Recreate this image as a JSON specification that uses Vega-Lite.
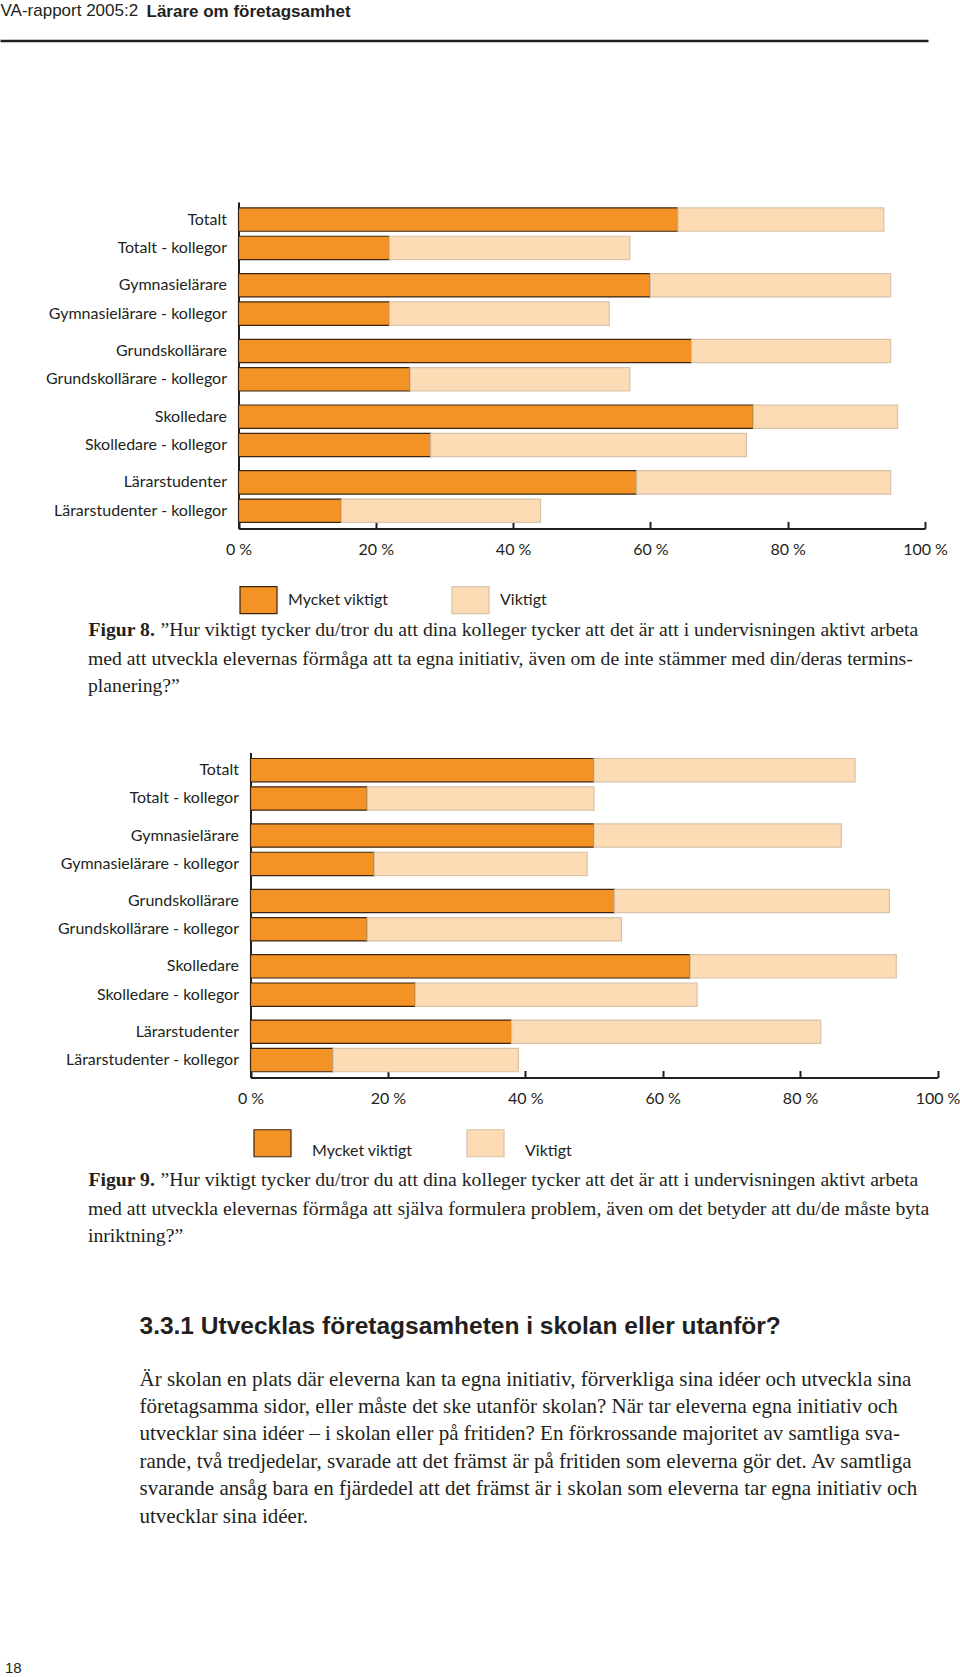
{
  "$schema": "https://vega.github.io/schema/vega-lite/v6.json",
  "padding": 0,
  "background": "white",
  "spacing": 0,
  "bounds": "flush",
  "resolve": {"scale": {"fill": "independent", "stroke": "independent"}, "legend": {"fill": "independent", "stroke": "independent"}},
  "config": {"view": {"stroke": null}, "axis": {"grid": false}, "font": "Lato"},
  "datasets": {
    "fig8": [
      {"grupp": "Totalt", "typ": "egen", "etikett": "Totalt", "svar": "Mycket viktigt", "andel": 64},
      {"grupp": "Totalt", "typ": "egen", "etikett": "Totalt", "svar": "Viktigt", "andel": 30},
      {"grupp": "Totalt", "typ": "kollegor", "etikett": "Totalt - kollegor", "svar": "Mycket viktigt", "andel": 22},
      {"grupp": "Totalt", "typ": "kollegor", "etikett": "Totalt - kollegor", "svar": "Viktigt", "andel": 35},
      {"grupp": "Gymnasielärare", "typ": "egen", "etikett": "Gymnasielärare", "svar": "Mycket viktigt", "andel": 60},
      {"grupp": "Gymnasielärare", "typ": "egen", "etikett": "Gymnasielärare", "svar": "Viktigt", "andel": 35},
      {"grupp": "Gymnasielärare", "typ": "kollegor", "etikett": "Gymnasielärare - kollegor", "svar": "Mycket viktigt", "andel": 22},
      {"grupp": "Gymnasielärare", "typ": "kollegor", "etikett": "Gymnasielärare - kollegor", "svar": "Viktigt", "andel": 32},
      {"grupp": "Grundskollärare", "typ": "egen", "etikett": "Grundskollärare", "svar": "Mycket viktigt", "andel": 66},
      {"grupp": "Grundskollärare", "typ": "egen", "etikett": "Grundskollärare", "svar": "Viktigt", "andel": 29},
      {"grupp": "Grundskollärare", "typ": "kollegor", "etikett": "Grundskollärare - kollegor", "svar": "Mycket viktigt", "andel": 25},
      {"grupp": "Grundskollärare", "typ": "kollegor", "etikett": "Grundskollärare - kollegor", "svar": "Viktigt", "andel": 32},
      {"grupp": "Skolledare", "typ": "egen", "etikett": "Skolledare", "svar": "Mycket viktigt", "andel": 75},
      {"grupp": "Skolledare", "typ": "egen", "etikett": "Skolledare", "svar": "Viktigt", "andel": 21},
      {"grupp": "Skolledare", "typ": "kollegor", "etikett": "Skolledare - kollegor", "svar": "Mycket viktigt", "andel": 28},
      {"grupp": "Skolledare", "typ": "kollegor", "etikett": "Skolledare - kollegor", "svar": "Viktigt", "andel": 46},
      {"grupp": "Lärarstudenter", "typ": "egen", "etikett": "Lärarstudenter", "svar": "Mycket viktigt", "andel": 58},
      {"grupp": "Lärarstudenter", "typ": "egen", "etikett": "Lärarstudenter", "svar": "Viktigt", "andel": 37},
      {"grupp": "Lärarstudenter", "typ": "kollegor", "etikett": "Lärarstudenter - kollegor", "svar": "Mycket viktigt", "andel": 15},
      {"grupp": "Lärarstudenter", "typ": "kollegor", "etikett": "Lärarstudenter - kollegor", "svar": "Viktigt", "andel": 29}
    ],
    "fig9": [
      {"grupp": "Totalt", "typ": "egen", "etikett": "Totalt", "svar": "Mycket viktigt", "andel": 50},
      {"grupp": "Totalt", "typ": "egen", "etikett": "Totalt", "svar": "Viktigt", "andel": 38},
      {"grupp": "Totalt", "typ": "kollegor", "etikett": "Totalt - kollegor", "svar": "Mycket viktigt", "andel": 17},
      {"grupp": "Totalt", "typ": "kollegor", "etikett": "Totalt - kollegor", "svar": "Viktigt", "andel": 33},
      {"grupp": "Gymnasielärare", "typ": "egen", "etikett": "Gymnasielärare", "svar": "Mycket viktigt", "andel": 50},
      {"grupp": "Gymnasielärare", "typ": "egen", "etikett": "Gymnasielärare", "svar": "Viktigt", "andel": 36},
      {"grupp": "Gymnasielärare", "typ": "kollegor", "etikett": "Gymnasielärare - kollegor", "svar": "Mycket viktigt", "andel": 18},
      {"grupp": "Gymnasielärare", "typ": "kollegor", "etikett": "Gymnasielärare - kollegor", "svar": "Viktigt", "andel": 31},
      {"grupp": "Grundskollärare", "typ": "egen", "etikett": "Grundskollärare", "svar": "Mycket viktigt", "andel": 53},
      {"grupp": "Grundskollärare", "typ": "egen", "etikett": "Grundskollärare", "svar": "Viktigt", "andel": 40},
      {"grupp": "Grundskollärare", "typ": "kollegor", "etikett": "Grundskollärare - kollegor", "svar": "Mycket viktigt", "andel": 17},
      {"grupp": "Grundskollärare", "typ": "kollegor", "etikett": "Grundskollärare - kollegor", "svar": "Viktigt", "andel": 37},
      {"grupp": "Skolledare", "typ": "egen", "etikett": "Skolledare", "svar": "Mycket viktigt", "andel": 64},
      {"grupp": "Skolledare", "typ": "egen", "etikett": "Skolledare", "svar": "Viktigt", "andel": 30},
      {"grupp": "Skolledare", "typ": "kollegor", "etikett": "Skolledare - kollegor", "svar": "Mycket viktigt", "andel": 24},
      {"grupp": "Skolledare", "typ": "kollegor", "etikett": "Skolledare - kollegor", "svar": "Viktigt", "andel": 41},
      {"grupp": "Lärarstudenter", "typ": "egen", "etikett": "Lärarstudenter", "svar": "Mycket viktigt", "andel": 38},
      {"grupp": "Lärarstudenter", "typ": "egen", "etikett": "Lärarstudenter", "svar": "Viktigt", "andel": 45},
      {"grupp": "Lärarstudenter", "typ": "kollegor", "etikett": "Lärarstudenter - kollegor", "svar": "Mycket viktigt", "andel": 12},
      {"grupp": "Lärarstudenter", "typ": "kollegor", "etikett": "Lärarstudenter - kollegor", "svar": "Viktigt", "andel": 27}
    ]
  },
  "vconcat": [
    {
      "width": 960,
      "height": 40.6,
      "data": {"values": []},
      "mark": "point",
      "encoding": {
        "x": {
          "field": "a", "type": "quantitative",
          "scale": {"domain": [0, 1], "range": [0, 928], "nice": false},
          "axis": {
            "domainColor": "#231f20", "domainWidth": 2.5, "ticks": false, "labels": false, "grid": false,
            "title": "VA-rapport 2005:2", "titleX": 0, "titleY": -24.6, "titleAlign": "left", "titleBaseline": "alphabetic",
            "titleFont": "Liberation Sans", "titleFontSize": 17, "titleFontWeight": "normal", "titleColor": "#231f20", "titleLimit": 2000
          }
        },
        "y": {
          "field": "b", "type": "quantitative",
          "scale": {"domain": [0, 1], "nice": false},
          "axis": {
            "domain": false, "ticks": false, "labels": false, "grid": false,
            "title": "Lärare om företagsamhet", "titleAngle": 0, "titleX": 146, "titleY": 16, "titleAlign": "left", "titleBaseline": "alphabetic",
            "titleFont": "Liberation Sans", "titleFontSize": 17, "titleFontWeight": "bold", "titleColor": "#231f20", "titleLimit": 2000
          }
        }
      }
    },
    {
      "width": 960,
      "height": 487.4,
      "data": {"name": "fig8"},
      "title": {
        "text": [
          "med att utveckla elevernas förmåga att ta egna initiativ, även om de inte stämmer med din/deras termins-",
          "planering?”"
        ],
        "orient": "bottom", "anchor": "start", "frame": "group", "dx": 88, "offset": 9.5, "align": "left",
        "font": "Liberation Serif", "fontSize": 19.7, "fontWeight": "normal", "lineHeight": 27, "color": "#231f20", "limit": 2000
      },
      "layer": [
        {
          "mark": {"type": "bar", "strokeWidth": 1.2},
          "encoding": {
            "y": {
              "field": "grupp", "type": "nominal",
              "sort": ["Totalt", "Gymnasielärare", "Grundskollärare", "Skolledare", "Lärarstudenter"],
              "scale": {"range": [160.9, 487.4], "paddingInner": 0.2134, "paddingOuter": 0.0915},
              "axis": {
                "labels": false, "ticks": false, "grid": false, "domainColor": "#231f20", "domainWidth": 2, "offset": -238.5,
                "title": "Figur 8.", "titleAngle": 0, "titleX": -150.5, "titleY": 594.4, "titleAlign": "left", "titleBaseline": "alphabetic",
                "titleFont": "Liberation Serif", "titleFontSize": 19.7, "titleFontWeight": "bold", "titleColor": "#231f20"
              }
            },
            "yOffset": {"field": "typ", "type": "nominal", "sort": ["egen", "kollegor"], "scale": {"paddingInner": 0.1767, "paddingOuter": 0}},
            "x": {
              "field": "andel", "type": "quantitative", "stack": "zero",
              "scale": {"domain": [0, 100], "range": [238.5, 925], "nice": false, "zero": false},
              "axis": {
                "values": [0, 20, 40, 60, 80, 100], "labelExpr": "datum.value + ' %'", "labelFlush": false, "labelOverlap": false,
                "domainColor": "#231f20", "domainWidth": 2, "tickColor": "#231f20", "tickWidth": 2, "tickSize": -7,
                "labelPadding": 28, "labelBaseline": "middle", "labelFont": "Lato", "labelFontSize": 16, "labelColor": "#231f20",
                "title": "”Hur viktigt tycker du/tror du att dina kolleger tycker att det är att i undervisningen aktivt arbeta",
                "titleX": 160, "titleY": 107, "titleAlign": "left", "titleBaseline": "alphabetic",
                "titleFont": "Liberation Serif", "titleFontSize": 19.7, "titleFontWeight": "normal",
                "titleColor": "#231f20", "titleLimit": 2000
              }
            },
            "order": {"field": "svar", "sort": "ascending"},
            "fill": {
              "field": "svar", "type": "nominal",
              "scale": {"domain": ["Mycket viktigt", "Viktigt"], "range": ["#F39325", "#FDDBB4"]},
              "legend": {
                "orient": "none", "legendX": 239, "legendY": 539.4, "direction": "horizontal", "title": null,
                "symbolType": "M-1,-0.73H1V0.73H-1Z", "symbolSize": 1369, "symbolStrokeWidth": 1.2,
                "labelFont": "Lato", "labelFontSize": 16, "labelColor": "#231f20", "labelOffset": 10, "columnPadding": 60
              }
            },
            "stroke": {
              "field": "svar", "type": "nominal",
              "scale": {"domain": ["Mycket viktigt", "Viktigt"], "range": ["#3d2410", "#d6c2a8"]}
            }
          }
        },
        {
          "transform": [{"filter": "datum.svar == 'Mycket viktigt'"}],
          "mark": {"type": "text", "align": "right", "baseline": "middle", "dx": -11.5, "font": "Lato", "fontSize": 16, "color": "#231f20"},
          "encoding": {
            "y": {"field": "grupp", "type": "nominal", "sort": ["Totalt", "Gymnasielärare", "Grundskollärare", "Skolledare", "Lärarstudenter"]},
            "yOffset": {"field": "typ", "type": "nominal", "sort": ["egen", "kollegor"]},
            "x": {"datum": 0, "type": "quantitative"},
            "text": {"field": "etikett"}
          }
        }
      ]
    },
    {
      "width": 960,
      "height": 548.5,
      "data": {"name": "fig9"},
      "title": {
        "text": [
          "med att utveckla elevernas förmåga att själva formulera problem, även om det betyder att du/de måste byta",
          "inriktning?”"
        ],
        "orient": "bottom", "anchor": "start", "frame": "group", "dx": 88, "offset": 10, "align": "left",
        "font": "Liberation Serif", "fontSize": 19.7, "fontWeight": "normal", "lineHeight": 27, "color": "#231f20", "limit": 2000
      },
      "layer": [
        {
          "mark": {"type": "bar", "strokeWidth": 1.2},
          "encoding": {
            "y": {
              "field": "grupp", "type": "nominal",
              "sort": ["Totalt", "Gymnasielärare", "Grundskollärare", "Skolledare", "Lärarstudenter"],
              "scale": {"range": [223.5, 548.5], "paddingInner": 0.2134, "paddingOuter": 0.0915},
              "axis": {
                "labels": false, "ticks": false, "grid": false, "domainColor": "#231f20", "domainWidth": 2, "offset": -250.5,
                "title": "Figur 9.", "titleAngle": 0, "titleX": -162.5, "titleY": 656.5, "titleAlign": "left", "titleBaseline": "alphabetic",
                "titleFont": "Liberation Serif", "titleFontSize": 19.7, "titleFontWeight": "bold", "titleColor": "#231f20"
              }
            },
            "yOffset": {"field": "typ", "type": "nominal", "sort": ["egen", "kollegor"], "scale": {"paddingInner": 0.1767, "paddingOuter": 0}},
            "x": {
              "field": "andel", "type": "quantitative", "stack": "zero",
              "scale": {"domain": [0, 100], "range": [250.5, 937.5], "nice": false, "zero": false},
              "axis": {
                "values": [0, 20, 40, 60, 80, 100], "labelExpr": "datum.value + ' %'", "labelFlush": false, "labelOverlap": false,
                "domainColor": "#231f20", "domainWidth": 2, "tickColor": "#231f20", "tickWidth": 2, "tickSize": -7,
                "labelPadding": 28, "labelBaseline": "middle", "labelFont": "Lato", "labelFontSize": 16, "labelColor": "#231f20",
                "title": "”Hur viktigt tycker du/tror du att dina kolleger tycker att det är att i undervisningen aktivt arbeta",
                "titleX": 160, "titleY": 108, "titleAlign": "left", "titleBaseline": "alphabetic",
                "titleFont": "Liberation Serif", "titleFontSize": 19.7, "titleFontWeight": "normal",
                "titleColor": "#231f20", "titleLimit": 2000
              }
            },
            "order": {"field": "svar", "sort": "ascending"},
            "fill": {
              "field": "svar", "type": "nominal",
              "scale": {"domain": ["Mycket viktigt", "Viktigt"], "range": ["#F39325", "#FDDBB4"]},
              "legend": {
                "orient": "none", "legendX": 253, "legendY": 594.5, "direction": "horizontal", "title": null,
                "symbolType": "M-1,-0.73H1V0.73H-1Z", "symbolSize": 1369, "symbolStrokeWidth": 1.2,
                "labelFont": "Lato", "labelFontSize": 16, "labelColor": "#231f20", "labelOffset": 20, "columnPadding": 51,
                "labelBaseline": "top"
              }
            },
            "stroke": {
              "field": "svar", "type": "nominal",
              "scale": {"domain": ["Mycket viktigt", "Viktigt"], "range": ["#3d2410", "#d6c2a8"]}
            }
          }
        },
        {
          "transform": [{"filter": "datum.svar == 'Mycket viktigt'"}],
          "mark": {"type": "text", "align": "right", "baseline": "middle", "dx": -11.5, "font": "Lato", "fontSize": 16, "color": "#231f20"},
          "encoding": {
            "y": {"field": "grupp", "type": "nominal", "sort": ["Totalt", "Gymnasielärare", "Grundskollärare", "Skolledare", "Lärarstudenter"]},
            "yOffset": {"field": "typ", "type": "nominal", "sort": ["egen", "kollegor"]},
            "x": {"datum": 0, "type": "quantitative"},
            "text": {"field": "etikett"}
          }
        }
      ]
    },
    {
      "width": 960,
      "height": 573.5,
      "data": {"values": []},
      "mark": "point",
      "title": {"text": "18", "orient": "bottom", "anchor": "start", "dx": 5, "offset": 9, "font": "Liberation Sans", "fontSize": 15, "fontWeight": "normal", "color": "#231f20"},
      "encoding": {
        "x": {
          "field": "a", "type": "quantitative",
          "scale": {"domain": [0, 1], "nice": false},
          "axis": {
            "domain": false, "ticks": false, "labels": false, "grid": false,
            "title": [
              "Är skolan en plats där eleverna kan ta egna initiativ, förverkliga sina idéer och utveckla sina",
              "företagsamma sidor, eller måste det ske utanför skolan? När tar eleverna egna initiativ och",
              "utvecklar sina idéer – i skolan eller på fritiden? En förkrossande majoritet av samtliga sva-",
              "rande, två tredjedelar, svarade att det främst är på fritiden som eleverna gör det. Av samtliga",
              "svarande ansåg bara en fjärdedel att det främst är i skolan som eleverna tar egna initiativ och",
              "utvecklar sina idéer."
            ],
            "titleX": 139, "titleY": -266.5, "titleAlign": "left", "titleBaseline": "alphabetic",
            "titleFont": "Liberation Serif", "titleFontSize": 21, "titleFontWeight": "normal", "titleLineHeight": 27.4,
            "titleColor": "#231f20", "titleLimit": 2000
          }
        },
        "y": {
          "field": "b", "type": "quantitative",
          "scale": {"domain": [0, 1], "nice": false},
          "axis": {
            "domain": false, "ticks": false, "labels": false, "grid": false,
            "title": "3.3.1 Utvecklas företagsamheten i skolan eller utanför?", "titleAngle": 0, "titleX": 139, "titleY": 255.5,
            "titleAlign": "left", "titleBaseline": "alphabetic",
            "titleFont": "Liberation Sans", "titleFontSize": 24.5, "titleFontWeight": "bold", "titleColor": "#231f20", "titleLimit": 2000
          }
        }
      }
    }
  ]
}
